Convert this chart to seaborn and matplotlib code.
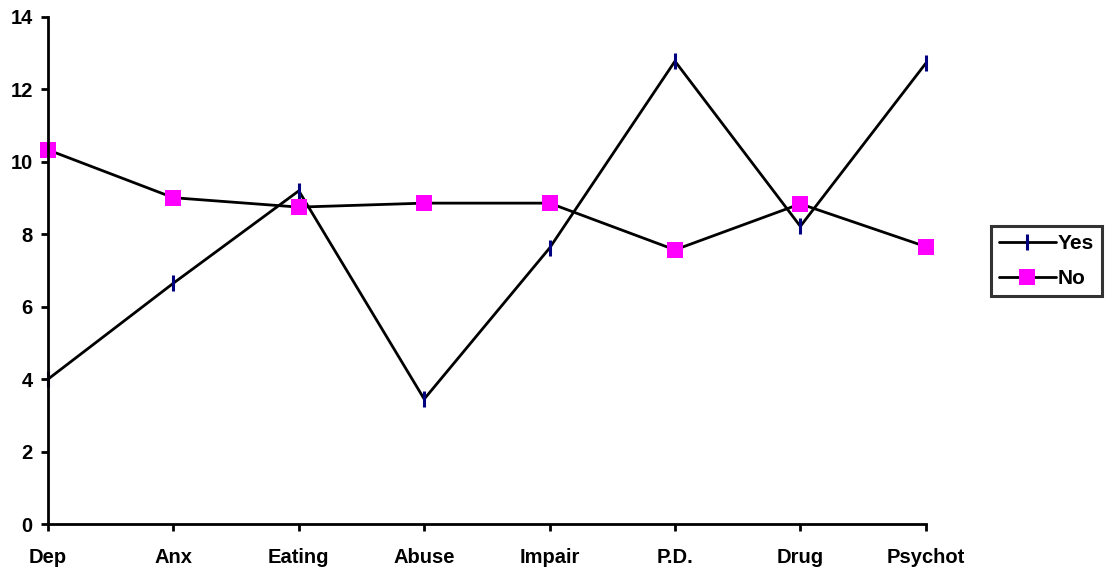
import matplotlib
matplotlib.use("Agg")
import matplotlib.pyplot as plt
import seaborn as sns
import pandas as pd

categories = ["Dep", "Anx", "Eating", "Abuse", "Impair", "P.D.", "Drug", "Psychot"]
yes_values = [4.0, 6.65, 9.2, 3.45, 7.62, 12.78, 8.22, 12.72]
no_values = [10.33, 9.01, 8.75, 8.86, 8.86, 7.57, 8.84, 7.66]
series_names = ["Yes", "No"]
y_ticks = [0, 2, 4, 6, 8, 10, 12, 14]

sns.set_style("white")
plt.rcParams['font.family'] = ['Liberation Sans', 'DejaVu Sans']
plt.rcParams['font.weight'] = 'bold'
plt.rcParams['text.color'] = 'black'
plt.rcParams['xtick.color'] = 'black'
plt.rcParams['ytick.color'] = 'black'

df = pd.DataFrame({
    "cat": categories * 2,
    "pos": list(range(len(categories))) * 2,
    "value": yes_values + no_values,
    "series": [series_names[0]] * len(categories) + [series_names[1]] * len(categories),
})

fig = plt.figure(figsize=(11.12, 5.72), dpi=100)
ax = fig.add_axes([0.0432, 0.0839, 0.8325 - 0.0432, 0.9703 - 0.0839])

sns.lineplot(data=df[df.series == "Yes"], x="pos", y="value", ax=ax, color="black",
             linewidth=2, marker="|", markersize=12, markeredgewidth=2.2,
             markeredgecolor="#000080", label="Yes", clip_on=False)
sns.lineplot(data=df[df.series == "No"], x="pos", y="value", ax=ax, color="black",
             linewidth=2, marker="s", markersize=11.5, markeredgewidth=0,
             markerfacecolor="#FF00FF", label="No", clip_on=False)

ax.set_xlim(0, len(categories) - 1)
ax.set_ylim(0, 14)
ax.set_xticks(range(len(categories)))
ax.set_xticklabels(categories, fontsize=14.5, fontweight="bold")
ax.set_yticks(y_ticks)
ax.set_yticklabels([str(t) for t in y_ticks], fontsize=14.5, fontweight="bold")
ax.set_xlabel("")
ax.set_ylabel("")
for s in ["top", "right"]:
    ax.spines[s].set_visible(False)
for s in ["left", "bottom"]:
    ax.spines[s].set_linewidth(2)
    ax.spines[s].set_color("black")
ax.tick_params(axis="both", which="major", bottom=True, left=True, direction="out",
               length=5, width=2, color="black")
ax.tick_params(axis="x", pad=12)
ax.tick_params(axis="y", pad=6)

leg = ax.legend(loc="center left", bbox_to_anchor=(991 / 1112, 1 - 261 / 572),
                bbox_transform=fig.transFigure, frameon=True, fancybox=False,
                fontsize=15, handlelength=2.7, borderpad=0.4, labelspacing=0.75,
                handletextpad=0.1, borderaxespad=0)
leg.get_frame().set_edgecolor("black")
leg.get_frame().set_linewidth(2.2)
for t in leg.get_texts():
    t.set_fontweight("bold")

fig.savefig("out.png", dpi=100)
